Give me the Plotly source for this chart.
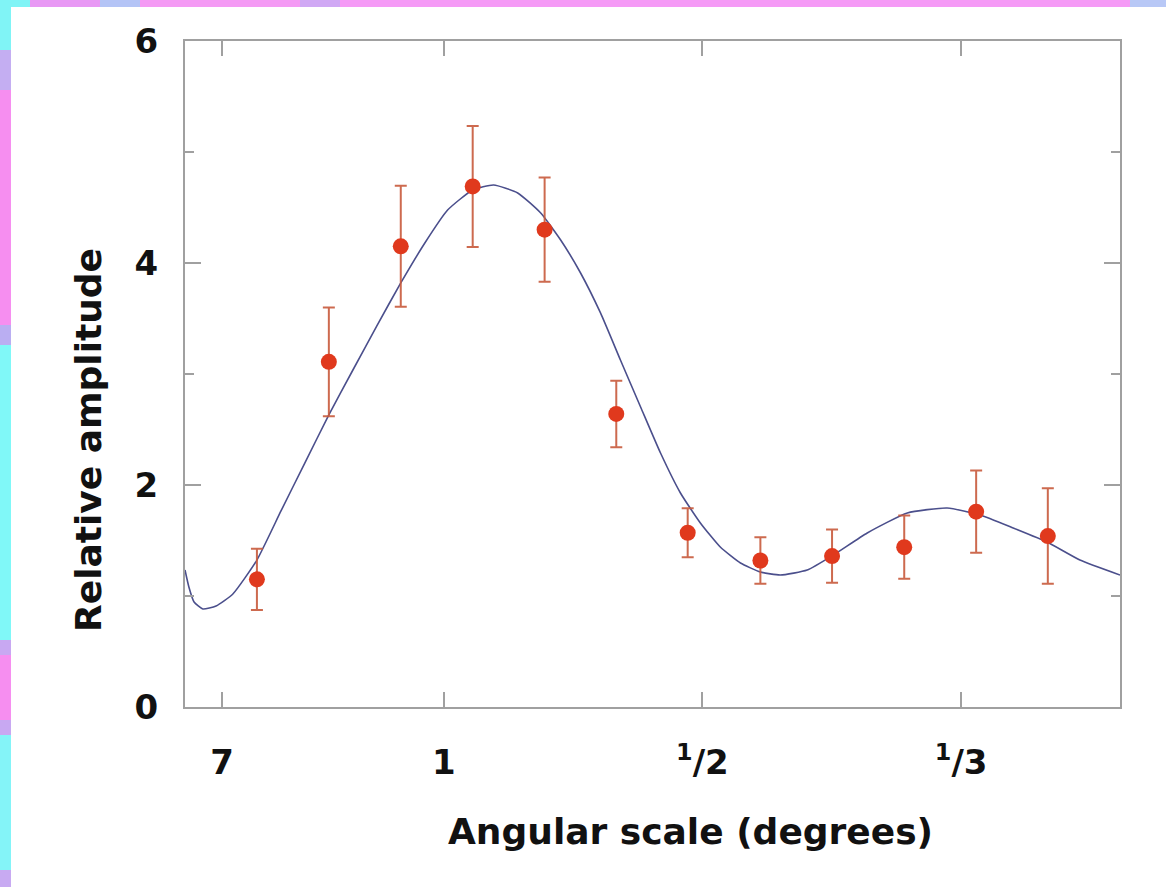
import plotly.graph_objects as go

# ---- data (x = inverse angular scale, 1/degrees) ----
point_inv_deg = [0.278, 0.556, 0.834, 1.112, 1.390, 1.667, 1.943, 2.224, 2.501, 2.780, 3.058, 3.335]
point_amp = [1.15, 3.11, 4.15, 4.69, 4.30, 2.64, 1.57, 1.32, 1.36, 1.44, 1.76, 1.54]
point_err = [0.275, 0.49, 0.545, 0.545, 0.47, 0.30, 0.22, 0.21, 0.24, 0.285, 0.37, 0.43]

curve_inv_deg = [0.0, 0.015, 0.035, 0.069, 0.120, 0.185, 0.278, 0.371, 0.463, 0.556, 0.649,
                 0.741, 0.834, 0.927, 1.015, 1.112, 1.193, 1.286, 1.375, 1.452, 1.529, 1.606,
                 1.683, 1.761, 1.838, 1.915, 1.992, 2.069, 2.147, 2.224, 2.301, 2.405, 2.506,
                 2.637, 2.792, 2.946, 3.073, 3.201, 3.332, 3.459, 3.614]
curve_amp = [1.234, 1.081, 0.946, 0.883, 0.910, 1.018, 1.324, 1.766, 2.198, 2.631, 3.036,
             3.432, 3.820, 4.180, 4.477, 4.658, 4.703, 4.631, 4.450, 4.207, 3.910, 3.550,
             3.126, 2.703, 2.288, 1.928, 1.658, 1.441, 1.297, 1.216, 1.189, 1.234, 1.369,
             1.568, 1.748, 1.793, 1.730, 1.613, 1.486, 1.324, 1.189]

x_tickvals = [1 / 7, 1, 2, 3]
x_ticktext = ["7", "1", "<sup>1</sup>/2", "<sup>1</sup>/3"]
y_tickvals = [0, 2, 4, 6]

FONT = "DejaVu Sans, Liberation Sans, Arial, sans-serif"

fig = go.Figure()
fig.add_trace(go.Scatter(
    x=curve_inv_deg, y=curve_amp, mode="lines",
    line=dict(color="#4b4f8c", width=1.6, shape="spline", smoothing=0.5),
    hoverinfo="skip", showlegend=False,
))
fig.add_trace(go.Scatter(
    x=point_inv_deg, y=point_amp, mode="markers",
    marker=dict(color="#e0391d", size=16, line=dict(width=0)),
    error_y=dict(type="data", array=point_err, visible=True,
                 color="rgba(200,90,60,0.9)", thickness=2, width=6),
    showlegend=False,
))

# decorative striped border (top and left)
W, H = 1166, 887
L, R, T, B = 185, 1120, 41, 707


def px_x(p):
    return (p - L) / (R - L)


def px_y(p):
    return (B - p) / (B - T)


left_strip = [(0, 50, "#80f4f6"), (50, 90, "#c4aef2"), (90, 325, "#f68ef0"),
              (325, 345, "#baaef2"), (345, 640, "#80f8f8"), (640, 655, "#c8a8f2"),
              (655, 720, "#f68ef0"), (720, 735, "#c8a8f2"), (735, 870, "#84f4f8"),
              (870, 887, "#c8aaf2")]
top_strip = [(0, 30, "#80f4f6"), (30, 100, "#e898f4"), (100, 140, "#b4c4f6"),
             (140, 300, "#f49af4"), (300, 340, "#d0a8f4"), (340, 1130, "#f59af6"),
             (1130, 1166, "#b8c8f6")]
shapes = []
for a, b, c in left_strip:
    shapes.append(dict(type="rect", xref="paper", yref="paper", layer="above",
                       x0=px_x(0), x1=px_x(11), y0=px_y(b), y1=px_y(a),
                       fillcolor=c, line=dict(width=0)))
for a, b, c in top_strip:
    shapes.append(dict(type="rect", xref="paper", yref="paper", layer="above",
                       x0=px_x(a), x1=px_x(b), y0=px_y(7), y1=px_y(0),
                       fillcolor=c, line=dict(width=0)))

fig.update_layout(
    width=W, height=H,
    margin=dict(l=L, r=W - R, t=T, b=H - B),
    paper_bgcolor="white", plot_bgcolor="white",
    font=dict(family=FONT, color="#111111"),
    shapes=shapes,
    xaxis=dict(
        range=[0, 3.614], tickmode="array", tickvals=x_tickvals, ticktext=x_ticktext,
        ticks="inside", ticklen=15, tickwidth=1.5, tickcolor="#a0a0a0",
        showline=True, linecolor="#a0a0a0", linewidth=2, mirror="allticks",
        showgrid=False, zeroline=False,
        tickfont=dict(family=FONT, size=34, weight="bold", color="#111111"),
        ticklabelstandoff=24,
    ),
    yaxis=dict(
        range=[0, 6], tickmode="array", tickvals=y_tickvals,
        ticks="inside", ticklen=16, tickwidth=1.5, tickcolor="#a0a0a0",
        minor=dict(ticks="inside", ticklen=9, dtick=1, tick0=0, tickcolor="#a0a0a0", tickwidth=1.5),
        showline=True, linecolor="#a0a0a0", linewidth=2, mirror="allticks",
        showgrid=False, zeroline=False,
        tickfont=dict(family=FONT, size=34, weight="bold", color="#111111"),
        ticklabelstandoff=18,
    ),
    annotations=[
        dict(text="Angular scale (degrees)", xref="paper", yref="paper",
             x=px_x(690), y=px_y(831), xanchor="center", yanchor="middle",
             showarrow=False, font=dict(family=FONT, size=36, weight="bold", color="#111111")),
        dict(text="Relative amplitude", xref="paper", yref="paper",
             x=px_x(88), y=px_y(440), xanchor="center", yanchor="middle", textangle=-90,
             showarrow=False, font=dict(family=FONT, size=36, weight="bold", color="#111111")),
    ],
)

fig.write_html("out.html", config={"displayModeBar": False},
               post_script="document.body.style.margin='0';")
